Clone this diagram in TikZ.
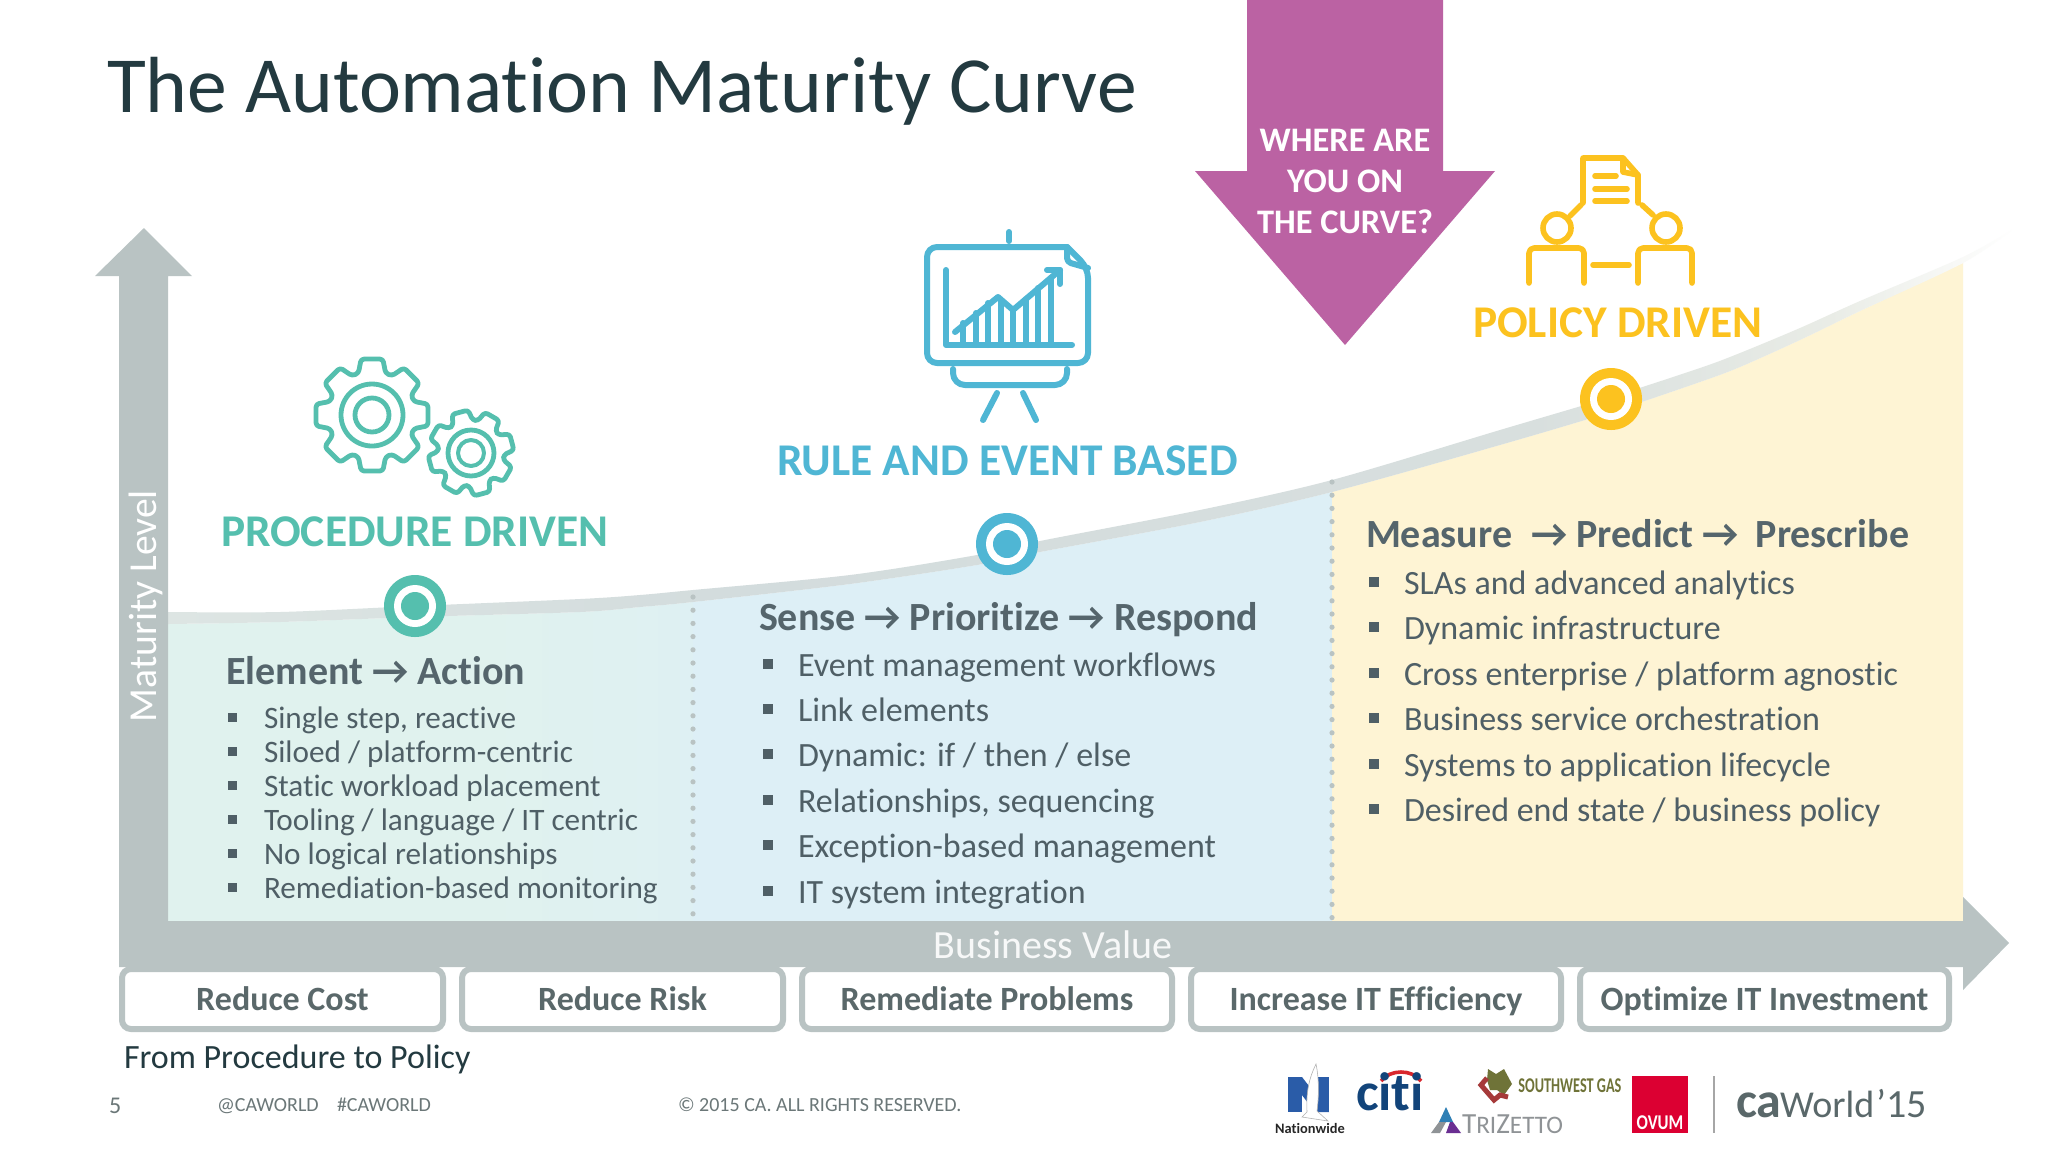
\documentclass[tikz,border=0pt]{standalone}
\usepackage{fontspec}
\setmainfont{Carlito}[Ligatures=NoCommon]
\usetikzlibrary{calc}
\definecolor{axisgrey}{HTML}{B9C3C3}
\definecolor{teal}{HTML}{55BFAE}
\definecolor{sky}{HTML}{4FB6D4}
\definecolor{gold}{HTML}{FCC21F}
\definecolor{plum}{HTML}{BB62A3}
\definecolor{greenbg}{HTML}{E0F2EE}
\definecolor{bluebg}{HTML}{DDEFF6}
\definecolor{yellowbg}{HTML}{FEF4D4}
\definecolor{bodytxt}{HTML}{4F5F66}
\definecolor{headtxt}{HTML}{55656C}
\definecolor{boxtxt}{HTML}{5A686A}
\definecolor{titletxt}{HTML}{233A40}
\definecolor{foot}{HTML}{6B7778}
\definecolor{bandA}{HTML}{DDE5E3}
\definecolor{bandB}{HTML}{D3DCDD}
\definecolor{bandC}{HTML}{D8DFDE}
\definecolor{bandD}{HTML}{E9ECE6}
\definecolor{nwblue}{HTML}{2A5CA8}
\definecolor{citiblue}{HTML}{12447A}
\definecolor{citired}{HTML}{D8272D}
\definecolor{swolive}{HTML}{6F7338}
\definecolor{swred}{HTML}{A63A3A}
\definecolor{tzblue}{HTML}{2F7FB5}
\definecolor{tzgrey}{HTML}{8F9396}
\definecolor{tzpurple}{HTML}{6A2F92}
\definecolor{ovumred}{HTML}{DC0032}
\pgfdeclarehorizontalshading{bandshade}{100bp}{color(0bp)=(bandA); color(25bp)=(bandA); color(40bp)=(bandB); color(62bp)=(bandC); color(70bp)=(bandD); color(75bp)=(white); color(100bp)=(white)}
\pgfdeclarehorizontalshading{greenshade}{100bp}{color(0bp)=(greenbg); color(25bp)=(greenbg); color(55bp)=(greenbg); color(75bp)=(bluebg!60!greenbg); color(100bp)=(bluebg!60!greenbg)}
\newcommand{\fsz}[1]{\fontsize{#1}{#1}\selectfont}
\newcommand{\gearicon}[6]{%
  \begin{scope}[shift={(#1,#2)},rotate=#5]
    \draw[iconline,rounded corners=1.5pt,teal] (-18:#4) -- (-11:#3) -- (11:#3) -- (18:#4)
      \foreach \a in {45,90,...,315} { -- ({\a-18}:#4) -- ({\a-11}:#3) -- ({\a+11}:#3) -- ({\a+18}:#4) } -- cycle;
  \end{scope}
  \draw[iconline,teal] (#1,#2) circle[radius=#6];
}
\tikzset{
  iconline/.style={line width=2.4pt,line cap=round,line join=round},
  txt/.style={inner sep=0pt,outer sep=0pt,anchor=base west,text=bodytxt},
  ctr/.style={inner sep=0pt,outer sep=0pt,anchor=base,text=bodytxt},
  bulletmark/.style={fill=bodytxt,inner sep=0pt,minimum size=5pt,outer sep=0pt},
  valuebox/.style={draw=axisgrey,line width=3pt,fill=white,rounded corners=4.5pt,inner sep=0pt},
  dotline/.style={draw=axisgrey,line width=2.6pt,line cap=round,dash pattern=on 0pt off 6.6pt},
}
\begin{document}
\begin{tikzpicture}[x=0.5pt,y=-0.5pt]
\useasboundingbox (0,0) rectangle (2048,1152);
\fill[white] (0,0) rectangle (2048,1152);

% regions under the curve
\def\curveLow{plot[smooth] coordinates {(168,624) (280,622) (415,617) (580,612) (640,607) (693,602) (850,584) (977,565) (1040,552) (1200,522) (1332,492) (1500,445) (1611,412) (1700,382) (1740,367) (1800,340) (1860,311) (1963,263)}}
\begin{scope}
  \clip \curveLow -- (1963,921) -- (168,921) -- cycle;
  \shade[shading=greenshade] (168,240) rectangle (693,921);
  \fill[bluebg] (693,240) rectangle (1332,921);
  \fill[yellowbg] (1332,240) rectangle (1965,921);
\end{scope}
% curve band
\shade[shading=bandshade] plot[smooth] coordinates {(168,612) (280,612) (415,606) (580,599) (640,595) (693,590) (850,575) (977,555) (1040,541) (1200,510) (1332,480) (1500,430) (1611,397) (1700,368) (1740,353) (1800,328) (1860,301) (1963,257) (2015,228)}
  -- plot[smooth] coordinates {(2015,228) (1963,263) (1860,311) (1800,340) (1740,367) (1700,382) (1611,412) (1500,445) (1332,492) (1200,522) (1040,552) (977,565) (850,584) (693,602) (640,607) (580,612) (415,617) (280,622) (168,624)} -- cycle;

% axes
\fill[axisgrey] (144,228) -- (192,276) -- (168,276) -- (168,921) -- (1963,921) -- (1963,897) -- (2009,943) -- (1963,990) -- (1963,967) -- (119,967) -- (119,276) -- (95,276) -- cycle;

% dotted separators
\coordinate (sepAtop) at (693,597);
\coordinate (sepAbot) at (693,921);
\coordinate (sepBtop) at (1332,482);
\coordinate (sepBbot) at (1332,921);
\draw[dotline] (sepAtop) -- (sepAbot);
\draw[dotline] (sepBtop) -- (sepBbot);

% axis labels
\node[ctr,text=white,rotate=90,anchor=center] (ylabel) at (146,606) {\fsz{19.8}Maturity Level};
\node[ctr,text=white!88!axisgrey,anchor=center] (xlabel) at (1053,945) {\fsz{20}Business Value};

% title
\node[txt,text=titletxt] (title) at (107,112) {\fsz{39.8}The Automation Maturity Curve};

% plum arrow
\fill[plum] (1247,0) -- (1443,0) -- (1443,171) -- (1495,171) -- (1345,345) -- (1195,171) -- (1247,171) -- cycle;
\node[ctr,text=white] (whereA) at (1345,151) {\fsz{17.2}\bfseries WHERE ARE};
\node[ctr,text=white] (whereB) at (1345,192) {\fsz{17.2}\bfseries YOU ON};
\node[ctr,text=white] (whereC) at (1345,233) {\fsz{17.2}\bfseries THE CURVE?};

% gears
\gearicon{372}{415}{57}{44}{0}{31}
\draw[iconline,teal] (372,415) circle[radius=17];
\gearicon{471}{453}{43}{33}{15}{23}
\draw[iconline,teal,line width=2pt] (471,453) circle[radius=13];

% presentation icon
\begin{scope}[iconline,sky,line width=3pt]
  \draw (1009,232) -- (1009,241);
  \draw[rounded corners=5pt] (927,300) -- (927,247) -- (1067,247);
  \draw[rounded corners=5pt] (1067,247) -- (1088,268) -- (1088,363) -- (927,363) -- (927,300);
  \draw[rounded corners=2pt] (1067,247) -- (1067,262) -- (1088,268);
  \draw (946,270) -- (946,345) -- (1072,345);
  \draw (955,332) -- (998,297) -- (1013,310) -- (1060,270);
  \draw (1047,270) -- (1060,270) -- (1060,284);
  \draw[rounded corners=6pt] (953,369) -- (953,385) -- (1067,385) -- (1067,369);
  \draw (997,393) -- (983,420);
  \draw (1023,393) -- (1036,420);
  \draw (963,323) -- (963,345);
  \draw (976,313) -- (976,345);
  \draw (988,303) -- (988,345);
  \draw (1001,300) -- (1001,345);
  \draw (1013,310) -- (1013,345);
  \draw (1026,299) -- (1026,345);
  \draw (1038,288) -- (1038,345);
  \draw (1051,278) -- (1051,345);
\end{scope}

% policy icon
\begin{scope}[iconline,gold,line width=2.8pt]
  \draw (1583,203) -- (1583,158) -- (1623,158) -- (1638,175) -- (1638,203);
  \draw (1623,158) -- (1623,172) -- (1638,175);
  \draw (1595,176) -- (1616,176);
  \draw (1595,189) -- (1627,189);
  \draw (1595,201) -- (1627,201);
  \draw (1570,216) -- (1581,205);
  \draw (1642,205) -- (1653,215);
  \draw (1557,228) circle[radius=14];
  \draw (1666,228) circle[radius=14];
  \draw[rounded corners=2.5pt] (1529,283) -- (1529,248) -- (1584,248) -- (1584,283);
  \draw[rounded corners=2.5pt] (1638,283) -- (1638,248) -- (1692,248) -- (1692,283);
  \draw (1593,265) -- (1629,265);
\end{scope}

% markers on the curve
\fill[teal] (415,606) circle[radius=31];
\fill[white] (415,606) circle[radius=21];
\fill[teal] (415,606) circle[radius=14];
\fill[sky] (1007,544) circle[radius=31];
\fill[white] (1007,544) circle[radius=21];
\fill[sky] (1007,544) circle[radius=14];
\fill[gold] (1611,399) circle[radius=31];
\fill[white] (1611,399) circle[radius=21];
\fill[gold] (1611,399) circle[radius=14];

% stage names
\node[txt,text=teal] (procedure) at (221,546) {\fsz{22.7}\bfseries PROCEDURE DRIVEN};
\node[txt,text=sky] (rule) at (777,475) {\fsz{22.7}\bfseries RULE AND EVENT BASED};
\node[txt,text=gold] (policy) at (1473,337) {\fsz{22.7}\bfseries POLICY DRIVEN};

% headings
\node[txt,text=headtxt] (headA) at (226,684) {\fsz{20}\bfseries Element → Action};
\node[txt,text=headtxt] (headB) at (759,630) {\fsz{20}\bfseries Sense → Prioritize → Respond};
\node[txt,text=headtxt] (headC) at (1366,547) {\fsz{20}\bfseries Measure\hspace{5pt} → Predict → \hspace{4pt}Prescribe};

% left list
\foreach \n/\y/\t in {1/728/{Single step, reactive},2/762/{Siloed / platform-centric},3/796/{Static workload placement},4/830/{Tooling / language / IT centric},5/864/{No logical relationships},6/898/{Remediation-based monitoring}}{
  \node[bulletmark,minimum size=4.5pt] (la\n) at (232,\y-11) {};
  \node[txt] (lt\n) at (264,\y) {\fsz{15.6}\t};
}
% middle list
\foreach \n/\y/\t in {1/676/{Event management workflows},2/721/{Link elements},3/766/{Dynamic: if / then / else},4/812/{Relationships, sequencing},5/857/{Exception-based management},6/903/{IT system integration}}{
  \node[bulletmark] (ma\n) at (768,\y-12) {};
  \node[txt] (mt\n) at (798,\y) {\fsz{17}\t};
}
% right list
\foreach \n/\y/\t in {1/594/{SLAs and advanced analytics},2/639/{Dynamic infrastructure},3/685/{Cross enterprise / platform agnostic},4/730/{Business service orchestration},5/776/{Systems to application lifecycle},6/821/{Desired end state / business policy}}{
  \node[bulletmark] (ra\n) at (1374,\y-12) {};
  \node[txt] (rt\n) at (1404,\y) {\fsz{17}\t};
}

% value boxes
\foreach \n/\xa/\xb/\t in {1/122/443/{Reduce Cost},2/462/783/{Reduce Risk},3/802/1172/{Remediate Problems},4/1191/1561/{Increase IT Efficiency},5/1580/1949/{Optimize IT Investment}}{
  \draw[valuebox] (\xa,969) rectangle (\xb,1029);
  \node[ctr,text=boxtxt] (box\n) at ({(\xa+\xb)/2},1010) {\fsz{17}\bfseries \t};
}

% footers
\node[txt,text=titletxt] (from) at (124,1068) {\fsz{17}From Procedure to Policy};
\node[txt,text=foot] (page) at (109,1113) {\fsz{12}5};
\node[txt,text=foot] (handleA) at (217,1111) {\fsz{10}@CAWORLD};
\node[txt,text=foot] (handleB) at (337,1111) {\fsz{10}\#CAWORLD};
\node[txt,text=foot] (copy) at (678,1111) {\fsz{10}© 2015 CA. ALL RIGHTS RESERVED.};

% Nationwide
\fill[nwblue] (1288,1077) rectangle (1302,1112);
\fill[nwblue] (1315,1077) rectangle (1329,1112);
\fill[nwblue] (1288,1077) -- (1302,1077) -- (1329,1112) -- (1315,1112) -- cycle;
\draw[gray!60,fill=white,line width=0.3pt] (1316,1064) .. controls (1309,1078) and (1306,1092) .. (1307,1112) -- (1302,1117) -- (1328,1121) -- (1317,1111) .. controls (1319,1095) and (1319,1078) .. (1316,1064) -- cycle;
\node[ctr,text=black!85] (nationwide) at (1310,1133) {\fsz{7.2}\bfseries Nationwide};

% citi
\draw[citired,line width=1.8pt] (1381,1081) .. controls (1390,1069) and (1412,1069) .. (1421,1081);
\node[ctr,text=citiblue] (citi) at (1390,1110) {\fsz{27}\bfseries citi};

% Southwest Gas
\fill[swolive] (1488,1069) -- (1496,1074) -- (1504,1069) -- (1512,1084) -- (1504,1095) -- (1497,1090) -- (1490,1090) -- (1487,1080) -- cycle;
\draw[swred,line width=2.5pt] (1481,1085) -- (1487,1078) -- (1481,1085) -- (1487,1092) -- (1494,1100) -- (1500,1095) -- (1508,1097);
\node[inner sep=0pt,anchor=base west,text=swolive] (southwest) at (1518,1092) {\scalebox{0.68}[1]{\fsz{10.5}\bfseries SOUTHWEST GAS}};

% TriZetto
\fill[tzblue] (1446,1107) -- (1453,1122) -- (1439,1122) -- cycle;
\fill[tzgrey] (1439,1122) -- (1446,1122) -- (1440,1133) -- (1431,1133) -- cycle;
\fill[tzpurple] (1450,1122) -- (1453,1122) -- (1461,1133) -- (1446,1133) -- cycle;
\node[txt,text=tzgrey] (trizetto) at (1462,1133) {\fsz{14.6}T\fsz{12.6}RI\fsz{14.6}Z\fsz{12.6}ETTO};

% Ovum
\fill[ovumred] (1632,1076) rectangle (1688,1133);
\node[ctr,text=white] (ovum) at (1660,1129) {\scalebox{0.8}[1]{\fsz{10.5}\bfseries OVUM}};

% CA World
\draw[gray!70,line width=0.8pt] (1714,1076) -- (1714,1133);
\node[txt,text=boxtxt] (caword) at (1736,1117) {\fsz{25}\bfseries ca};
\node[txt,text=boxtxt] (world) at (1780,1117) {\fsz{19}World};
\node[txt,text=boxtxt] (year) at (1876,1117) {\fsz{20}’15};
\end{tikzpicture}
\end{document}
